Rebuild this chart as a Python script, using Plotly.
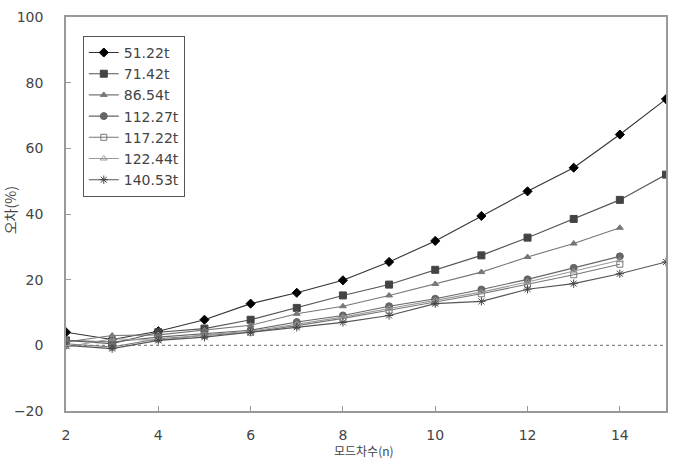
import plotly.graph_objects as go

x_full = [2, 3, 4, 5, 6, 7, 8, 9, 10, 11, 12, 13, 14, 15]
x_14 = [2, 3, 4, 5, 6, 7, 8, 9, 10, 11, 12, 13, 14]

names = ["51.22t", "71.42t", "86.54t", "112.27t", "117.22t", "122.44t", "140.53t"]
s1 = [4.0, 1.8, 4.3, 7.8, 12.7, 16.0, 19.8, 25.4, 31.8, 39.4, 46.9, 54.1, 64.2, 75.0]
s2 = [1.5, 0.5, 4.0, 5.1, 7.8, 11.4, 15.2, 18.5, 23.0, 27.4, 32.8, 38.5, 44.3, 52.0]
s3 = [1.0, 3.0, 3.2, 4.6, 6.1, 9.6, 11.9, 15.2, 18.7, 22.3, 26.9, 31.0, 35.8]
s4 = [1.5, 1.0, 2.5, 3.6, 4.6, 7.1, 9.1, 11.9, 14.2, 17.0, 20.1, 23.6, 27.1]
s5 = [0.5, -0.5, 2.0, 3.0, 4.0, 6.0, 8.2, 10.7, 13.2, 15.7, 18.6, 21.5, 24.7]
s6 = [-0.5, 2.0, 1.5, 3.2, 4.3, 6.5, 8.6, 11.2, 13.7, 16.2, 19.3, 22.5, 25.9]
s7 = [0.0, -1.0, 1.5, 2.5, 4.0, 5.5, 7.0, 9.1, 12.7, 13.4, 17.1, 18.8, 21.8, 25.4]

series = [
    (names[0], x_full, s1, "diamond", "#000000", "#333333", 7),
    (names[1], x_full, s2, "square", "#444444", "#555555", 7),
    (names[2], x_14, s3, "triangle-up", "#777777", "#777777", 6),
    (names[3], x_14, s4, "circle", "#666666", "#666666", 7),
    (names[4], x_14, s5, "square-open", "#777777", "#777777", 6),
    (names[5], x_14, s6, "triangle-up-open", "#999999", "#999999", 6),
    (names[6], x_full, s7, "asterisk-open", "#444444", "#555555", 7),
]

fig = go.Figure()
for name, xs, ys, sym, mc, lc, ms in series:
    fig.add_trace(go.Scatter(
        x=xs, y=ys, name=name, mode="lines+markers",
        line=dict(color=lc, width=1.1),
        marker=dict(symbol=sym, size=ms, color=mc, line=dict(color=mc, width=1)),
    ))

fig.add_shape(type="line", xref="x", yref="y", x0=2, x1=15, y0=0, y1=0,
              line=dict(color="#888888", width=1.2, dash="dot"), layer="below")

font = "DejaVu Sans, sans-serif"
fig.update_layout(
    width=677, height=460,
    margin=dict(l=66, r=9, t=17, b=49),
    paper_bgcolor="white", plot_bgcolor="white",
    font=dict(family=font, size=13, color="#444444"),
    showlegend=True,
    legend=dict(
        x=0.028, y=0.952, xanchor="left", yanchor="top",
        bordercolor="#555555", borderwidth=1, bgcolor="white",
        font=dict(family=font, size=14, color="#444444"),
        tracegroupgap=0, itemwidth=30,
    ),
    xaxis=dict(
        range=[2, 15], tickvals=[2, 4, 6, 8, 10, 12, 14],
        showline=True, linecolor="#999999", linewidth=1.5, mirror=True,
        ticks="inside", ticklen=5, tickcolor="#999999",
        ticklabelstandoff=10,
        showgrid=False, zeroline=False,
        tickfont=dict(family=font, size=14, color="#444444"),
    ),
    yaxis=dict(
        range=[-20, 100], tickvals=[-20, 0, 20, 40, 60, 80, 100],
        ticktext=["−20", "0", "20", "40", "60", "80", "100"],
        showline=True, linecolor="#999999", linewidth=1.5, mirror=True,
        ticks="inside", ticklen=5, tickcolor="#999999",
        ticklabelstandoff=18,
        showgrid=False, zeroline=False,
        tickfont=dict(family=font, size=14, color="#444444"),
    ),
    annotations=[
        dict(text="오차(%)", xref="paper", yref="paper", x=-0.093, y=0.51,
             xanchor="center", yanchor="middle", textangle=-90, showarrow=False,
             font=dict(family="Noto Sans CJK KR", size=14, color="#444444")),
        dict(text="모드차수(n)", xref="paper", yref="paper", x=0.497, y=-0.1244,
             xanchor="center", yanchor="bottom", showarrow=False, borderpad=0,
             font=dict(family="Noto Sans CJK KR", size=12, color="#444444")),
    ],
)

fig.write_html("out.html")
